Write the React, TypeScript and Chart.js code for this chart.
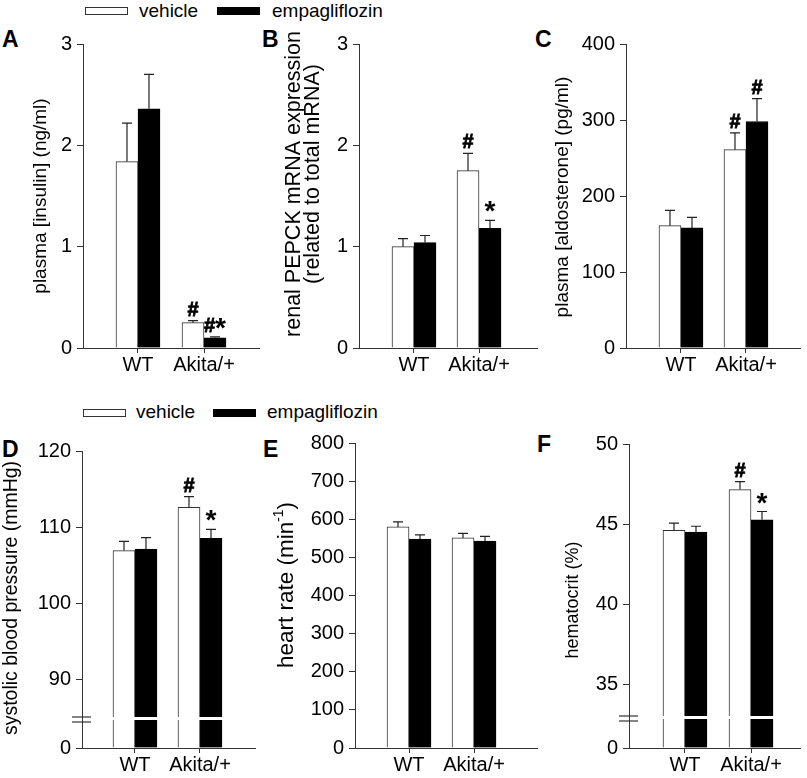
import React, { useEffect, useRef } from 'react';
import { Chart, registerables, LinearScale } from 'chart.js';

// ---------------- data ----------------
const categories = ['WT', 'Akita/+'];
const seriesLabels = ['vehicle', 'empagliflozin'];

// A: plasma insulin (ng/ml)
const insulinVehicle = [1.84, 0.25];
const insulinVehicleSem = [0.38, 0.02];
const insulinEmpa = [2.36, 0.1];
const insulinEmpaSem = [0.34, 0.01];
const insulinVehicleSig = ['', '#'];
const insulinEmpaSig = ['', '#*'];
const insulinTicks = [0, 1, 2, 3];

// B: renal PEPCK mRNA
const pepckVehicle = [1.0, 1.75];
const pepckVehicleSem = [0.08, 0.17];
const pepckEmpa = [1.04, 1.18];
const pepckEmpaSem = [0.07, 0.08];
const pepckVehicleSig = ['', '#'];
const pepckEmpaSig = ['', '*'];
const pepckTicks = [0, 1, 2, 3];

// C: plasma aldosterone (pg/ml)
const aldoVehicle = [161, 261];
const aldoVehicleSem = [20, 22];
const aldoEmpa = [158, 298];
const aldoEmpaSem = [14, 30];
const aldoVehicleSig = ['', '#'];
const aldoEmpaSig = ['', '#'];
const aldoTicks = [0, 100, 200, 300, 400];

// D: systolic blood pressure (mmHg)
const sbpVehicle = [106.9, 112.6];
const sbpVehicleSem = [1.2, 1.4];
const sbpEmpa = [107.1, 108.5];
const sbpEmpaSem = [1.5, 1.2];
const sbpVehicleSig = ['', '#'];
const sbpEmpaSig = ['', '*'];
const sbpTicks = [0, 90, 100, 110, 120];

// E: heart rate (min-1)
const hrVehicle = [580, 551];
const hrVehicleSem = [13, 12];
const hrEmpa = [548, 543];
const hrEmpaSem = [11, 12];
const hrVehicleSig = ['', ''];
const hrEmpaSig = ['', ''];
const hrTicks = [0, 100, 200, 300, 400, 500, 600, 700, 800];

// F: hematocrit (%)
const hctVehicle = [44.6, 47.15];
const hctVehicleSem = [0.45, 0.5];
const hctEmpa = [44.5, 45.26];
const hctEmpaSem = [0.36, 0.52];
const hctVehicleSig = ['', '#'];
const hctEmpaSig = ['', '*'];
const hctTicks = [0, 35, 40, 45, 50];

// ---------------- styling ----------------
const FONT = '"Liberation Sans", Arial, Helvetica, sans-serif';
const AXIS = '#333';
const VEH_FILL = '#ffffff';
const EMPA_FILL = '#000000';

// ---------------- broken axis scale ----------------
class BrokenLinearScale extends LinearScale {
  static id = 'brokenLinear';
  static defaults = LinearScale.defaults;
  getPixelForValue(value: number) {
    const b: any = (this.options as any).brk;
    if (value === null || value === undefined || isNaN(value)) return NaN;
    const bottom = this.bottom;
    const top = this.top;
    const lowTop = bottom - b.lowerPx;
    const upBottom = lowTop - b.gapPx;
    if (value <= b.low) return bottom - ((value - this.min) / (b.low - this.min)) * b.lowerPx;
    if (value < b.high) return lowTop - ((value - b.low) / (b.high - b.low)) * b.gapPx;
    return upBottom - ((value - b.high) / (this.max - b.high)) * (upBottom - top);
  }
  getValueForPixel(pixel: number) {
    const b: any = (this.options as any).brk;
    const bottom = this.bottom;
    const top = this.top;
    const lowTop = bottom - b.lowerPx;
    const upBottom = lowTop - b.gapPx;
    if (pixel >= lowTop) return this.min + ((bottom - pixel) / b.lowerPx) * (b.low - this.min);
    if (pixel > upBottom) return b.low + ((lowTop - pixel) / b.gapPx) * (b.high - b.low);
    return b.high + ((upBottom - pixel) / (upBottom - top)) * (this.max - b.high);
  }
}

Chart.register(...registerables, BrokenLinearScale);
Chart.defaults.font.family = FONT;
Chart.defaults.font.size = 20;
Chart.defaults.color = '#000';

// ---------------- panel layout ----------------
const PANELS: any[] = [
  {
    key: 'A', left: 0, top: 20, width: 265, height: 370, padL: 4, yW: 79, padR: 6, padT: 24, padB: 14,
    xMin: -0.833, xMax: 1.833, yMin: 0, yMax: 3, ticks: insulinTicks,
    veh: insulinVehicle, vehErr: insulinVehicleSem, vehSig: insulinVehicleSig,
    emp: insulinEmpa, empErr: insulinEmpaSem, empSig: insulinEmpaSig,
    titles: [{ parts: [{ text: 'plasma [insulin] (ng/ml)' }], x: 41, y: 196, size: 19 }],
  },
  {
    key: 'B', left: 262, top: 20, width: 280, height: 370, padL: 4, yW: 93, padR: 5, padT: 24, padB: 14,
    xMin: -0.846, xMax: 1.892, yMin: 0, yMax: 3, ticks: pepckTicks,
    veh: pepckVehicle, vehErr: pepckVehicleSem, vehSig: pepckVehicleSig,
    emp: pepckEmpa, empErr: pepckEmpaSem, empSig: pepckEmpaSig,
    titles: [
      { parts: [{ text: 'renal PEPCK mRNA expression' }], x: 294, y: 184, size: 21.5 },
      { parts: [{ text: '(related to total mRNA)' }], x: 313, y: 174, size: 21.5 },
    ],
  },
  {
    key: 'C', left: 542, top: 20, width: 265, height: 370, padL: 4, yW: 80, padR: 7, padT: 24, padB: 14,
    xMin: -0.846, xMax: 1.831, yMin: 0, yMax: 400, ticks: aldoTicks,
    veh: aldoVehicle, vehErr: aldoVehicleSem, vehSig: aldoVehicleSig,
    emp: aldoEmpa, empErr: aldoEmpaSem, empSig: aldoEmpaSig,
    titles: [{ parts: [{ text: 'plasma [aldosterone] (pg/ml)' }], x: 563, y: 197, size: 19 }],
  },
  {
    key: 'D', left: 0, top: 400, width: 262, height: 378, padL: 4, yW: 78, padR: 7, padT: 51, padB: 2,
    xMin: -0.815, xMax: 1.846, yMin: 0, yMax: 120, ticks: sbpTicks,
    brk: { low: 10, high: 85, lowerPx: 28, gapPx: 3 },
    veh: sbpVehicle, vehErr: sbpVehicleSem, vehSig: sbpVehicleSig,
    emp: sbpEmpa, empErr: sbpEmpaSem, empSig: sbpEmpaSig,
    titles: [{ parts: [{ text: 'systolic blood pressure (mmHg)' }], x: 12, y: 598, size: 19.5 }],
  },
  {
    key: 'E', left: 262, top: 400, width: 280, height: 378, padL: 4, yW: 89, padR: 5, padT: 43, padB: 2,
    xMin: -0.831, xMax: 1.969, yMin: 0, yMax: 800, ticks: hrTicks,
    veh: hrVehicle, vehErr: hrVehicleSem, vehSig: hrVehicleSig,
    emp: hrEmpa, empErr: hrEmpaSem, empSig: hrEmpaSig,
    titles: [{ parts: [{ text: 'heart rate (min' }, { text: '-1', sup: true }, { text: ')' }], x: 287, y: 585, size: 22.5 }],
  },
  {
    key: 'F', left: 542, top: 400, width: 265, height: 378, padL: 4, yW: 83, padR: 7, padT: 44, padB: 2,
    xMin: -0.848, xMax: 1.742, yMin: 0, yMax: 50, ticks: hctTicks,
    brk: { low: 5, high: 33, lowerPx: 29, gapPx: 3 },
    veh: hctVehicle, vehErr: hctVehicleSem, vehSig: hctVehicleSig,
    emp: hctEmpa, empErr: hctEmpaSem, empSig: hctEmpaSig,
    titles: [{ parts: [{ text: 'hematocrit (%)' }], x: 573, y: 600, size: 18 }],
  },
];

const LETTERS = [
  { t: 'A', x: 2, base: 47 }, { t: 'B', x: 262, base: 47 }, { t: 'C', x: 535, base: 47 },
  { t: 'D', x: 2, base: 457 }, { t: 'E', x: 263, base: 457 }, { t: 'F', x: 537, base: 452 },
];

const LEGENDS = [
  { textTop: 1, boxTop: 7, items: [{ box: 85, text: 139 }, { box: 217, text: 272 }] },
  { textTop: 402, boxTop: 409, items: [{ box: 83, text: 136 }, { box: 213, text: 267 }] },
];

function drawMark(ctx: any, mark: string, x: number, yErr: number) {
  // '#' in bold 20px, '*' in a larger bold font, centered over the bar
  const chars = mark.split('');
  const fontOf = (c: string) => (c === '*' ? 'bold 28px ' : 'bold 20px ') + FONT;
  const widths = chars.map((c) => { ctx.font = fontOf(c); return ctx.measureText(c).width; });
  const total = widths.reduce((a, b) => a + b, 0);
  let cx = x - total / 2;
  ctx.fillStyle = '#000';
  ctx.strokeStyle = '#000';
  ctx.lineWidth = 0.8;
  ctx.textAlign = 'left';
  ctx.textBaseline = 'alphabetic';
  chars.forEach((c, k) => {
    ctx.font = fontOf(c);
    const yy = c === '*' ? yErr : yErr - 5;
    ctx.fillText(c, cx, yy);
    if (c === '#') ctx.strokeText(c, cx, yy);
    cx += widths[k];
  });
}

function makeExtras(p: any) {
  return {
    id: 'extras' + p.key,
    afterDatasetsDraw(chart: any) {
      const ctx = chart.ctx;
      const ys = chart.scales.y;
      const area = chart.chartArea;
      ctx.save();
      if (p.brk) {
        const yHi = ys.getPixelForValue(p.brk.high);
        const yLo = ys.getPixelForValue(p.brk.low);
        ctx.fillStyle = '#fff';
        ctx.fillRect(area.left + 1, yHi, area.right - area.left - 1, yLo - yHi);
        ctx.strokeStyle = AXIS;
        ctx.lineWidth = 1.2;
        [yHi, yLo + 2].forEach((yy) => {
          ctx.beginPath();
          ctx.moveTo(area.left - 10, yy);
          ctx.lineTo(area.left + 9, yy);
          ctx.stroke();
        });
      }
      chart.data.datasets.forEach((ds: any, i: number) => {
        const meta = chart.getDatasetMeta(i);
        meta.data.forEach((bar: any, j: number) => {
          const v = ds.data[j].y;
          const e = ds.errors[j];
          const x = bar.x;
          const yTop = bar.y;
          const yErr = ys.getPixelForValue(v + e);
          ctx.strokeStyle = '#222';
          ctx.lineWidth = 1.2;
          ctx.beginPath();
          ctx.moveTo(x, yTop);
          ctx.lineTo(x, yErr);
          ctx.moveTo(x - 5, yErr);
          ctx.lineTo(x + 5, yErr);
          ctx.stroke();
          const m = ds.marks[j];
          if (m) drawMark(ctx, m, x, yErr);
        });
      });
      ctx.restore();
    },
    afterDraw(chart: any) {
      const ctx = chart.ctx;
      p.titles.forEach((t: any) => {
        ctx.save();
        ctx.translate(t.x - p.left, t.y - p.top);
        ctx.rotate(-Math.PI / 2);
        ctx.fillStyle = '#000';
        ctx.textBaseline = 'middle';
        ctx.textAlign = 'left';
        const fontFor = (sup: boolean) => `${sup ? t.size * 0.62 : t.size}px ${FONT}`;
        const widths = t.parts.map((pt: any) => {
          ctx.font = fontFor(!!pt.sup);
          return ctx.measureText(pt.text).width;
        });
        const total = widths.reduce((a: number, b: number) => a + b, 0);
        let cx = -total / 2;
        t.parts.forEach((pt: any, k: number) => {
          ctx.font = fontFor(!!pt.sup);
          ctx.fillText(pt.text, cx, pt.sup ? -t.size * 0.33 : 0);
          cx += widths[k];
        });
        ctx.restore();
      });
    },
  };
}

function buildConfig(p: any): any {
  const mk = (vals: number[]) => vals.map((v, i) => ({ x: i, y: v }));
  return {
    type: 'bar',
    data: {
      datasets: [
        {
          label: seriesLabels[0], data: mk(p.veh), errors: p.vehErr, marks: p.vehSig,
          backgroundColor: VEH_FILL, borderColor: AXIS, borderWidth: 1, barThickness: 22,
        },
        {
          label: seriesLabels[1], data: mk(p.emp), errors: p.empErr, marks: p.empSig,
          backgroundColor: EMPA_FILL, borderColor: EMPA_FILL, borderWidth: 1, barThickness: 22,
        },
      ],
    },
    options: {
      animation: false,
      responsive: false,
      devicePixelRatio: 1,
      events: [],
      layout: { padding: { left: p.padL, right: p.padR, top: p.padT, bottom: p.padB } },
      plugins: { legend: { display: false }, tooltip: { enabled: false }, title: { display: false } },
      scales: {
        x: {
          type: 'linear', min: p.xMin, max: p.xMax, offset: false,
          afterBuildTicks: (s: any) => { s.ticks = categories.map((_, i) => ({ value: i })); },
          afterFit: (s: any) => { s.height = 28; },
          ticks: {
            callback: (v: any) => categories[v] ?? '', font: { size: 20 }, color: '#000',
            padding: 0, maxRotation: 0, minRotation: 0, autoSkip: false,
          },
          grid: { display: true, offset: false, drawOnChartArea: false, drawTicks: true, tickLength: 5, color: AXIS, lineWidth: 1 },
          border: { display: true, color: AXIS, width: 1 },
        },
        y: {
          type: p.brk ? 'brokenLinear' : 'linear', min: p.yMin, max: p.yMax, brk: p.brk,
          afterBuildTicks: (s: any) => { s.ticks = p.ticks.map((v: number) => ({ value: v })); },
          afterFit: (s: any) => { s.width = p.yW; },
          ticks: { font: { size: 20 }, color: '#000', padding: 5 },
          grid: { display: true, drawOnChartArea: false, drawTicks: true, tickLength: 6, color: AXIS, lineWidth: 1 },
          border: { display: true, color: AXIS, width: 1 },
        },
      },
    },
    plugins: [makeExtras(p)],
  };
}

function Panel({ p }: { p: any }) {
  const ref = useRef<HTMLCanvasElement | null>(null);
  useEffect(() => {
    if (!ref.current) return;
    const chart = new Chart(ref.current, buildConfig(p));
    return () => chart.destroy();
  }, []);
  return (
    <canvas
      ref={ref}
      width={p.width}
      height={p.height}
      style={{ position: 'absolute', left: p.left, top: p.top, width: p.width, height: p.height }}
    />
  );
}

export default function App() {
  return (
    <div style={{ position: 'absolute', left: 0, top: 0, width: 807, height: 778, background: '#fff', fontFamily: FONT, overflow: 'hidden' }}>
      {LEGENDS.map((lg, li) => (
        <React.Fragment key={'lg' + li}>
          {lg.items.map((it, k) => (
            <React.Fragment key={k}>
              <div style={{
                position: 'absolute', left: it.box, top: lg.boxTop, width: 43, height: 8, boxSizing: 'border-box',
                border: '1px solid ' + (k === 0 ? AXIS : EMPA_FILL), background: k === 0 ? VEH_FILL : EMPA_FILL,
              }} />
              <div style={{ position: 'absolute', left: it.text, top: lg.textTop, fontSize: 19, lineHeight: '19px', color: '#000', whiteSpace: 'nowrap' }}>
                {seriesLabels[k]}
              </div>
            </React.Fragment>
          ))}
        </React.Fragment>
      ))}
      {LETTERS.map((l) => (
        <div key={l.t} style={{ position: 'absolute', left: l.x, top: l.base - 19.5, fontSize: 23, lineHeight: '23px', fontWeight: 'bold', color: '#000' }}>
          {l.t}
        </div>
      ))}
      {PANELS.map((p) => <Panel key={p.key} p={p} />)}
    </div>
  );
}
